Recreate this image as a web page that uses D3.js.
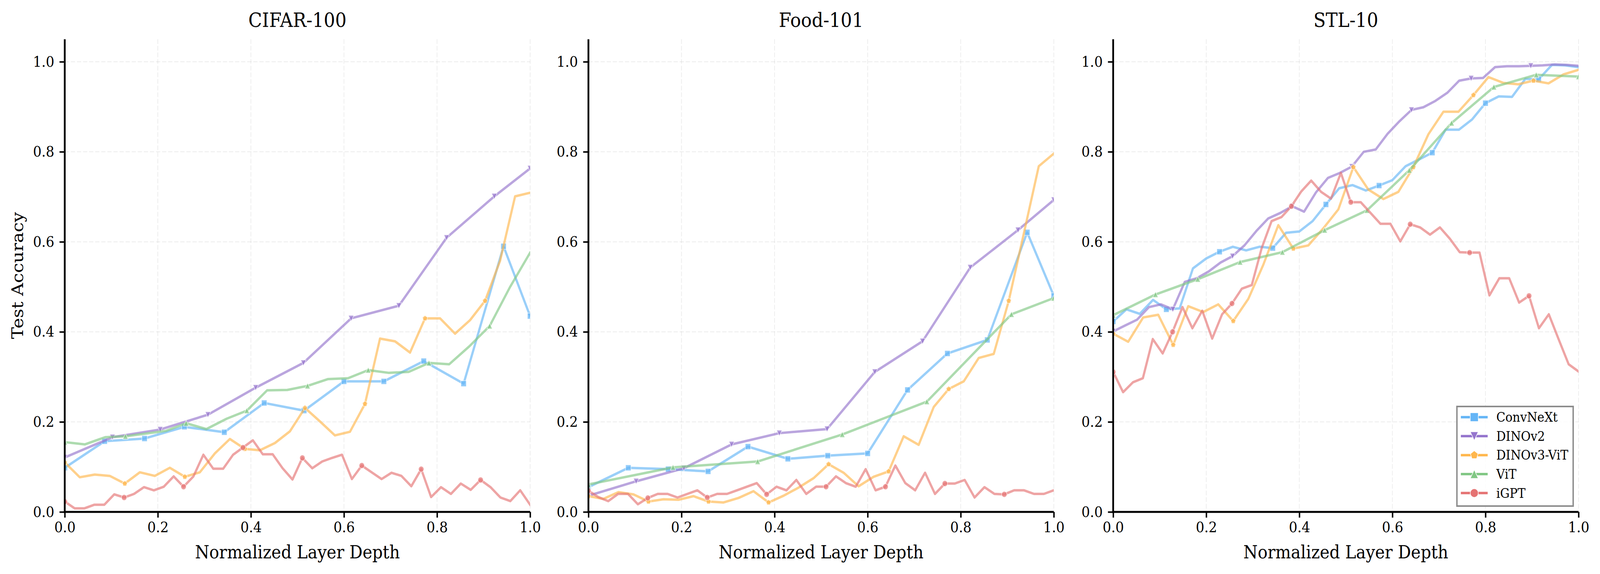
<!DOCTYPE html>
<html><head><meta charset="utf-8">
<script src="https://cdn.jsdelivr.net/npm/d3@7"></script>
<style>html,body{margin:0;padding:0;background:#fff;overflow:hidden} svg{display:block;width:100vw;height:100vh}</style>
</head><body><svg id="c" viewBox="0 0 4473 1470" preserveAspectRatio="none"></svg>
<script>
// ---------------- data ----------------
const datasets = ["CIFAR-100", "Food-101", "STL-10"];
const models = ["ConvNeXt", "DINOv2", "DINOv3-ViT", "ViT", "iGPT"];
const colors = ["#64B5F6", "#9575CD", "#FFB74D", "#81C784", "#E57373"];
const shapes = ["square", "triDown", "pentagon", "triUp", "circle"];
const xTicks = [0.0, 0.2, 0.4, 0.6, 0.8, 1.0];
const yTicks = [0.0, 0.2, 0.4, 0.6, 0.8, 1.0];

// sampled layer indices (when not every layer was probed)
const convnextSampled = [0, 3, 6, 9, 12, 15, 18, 21, 24, 27, 30, 33, 35]; // of 0..35
const dinov2Sampled = [0, 4, 8, 12, 16, 20, 24, 28, 32, 36, 39];           // of 0..39
const vitSampled = [0, 2, 4, 6, 8, 10, 11];                                 // of 0..11

// CIFAR-100
const cifarConvNeXt = [0.098,0.157,0.163,0.189,0.177,0.242,0.225,0.290,0.290,0.335,0.285,0.590,0.435];
const cifarDINOv2 = [0.121,0.166,0.183,0.216,0.276,0.331,0.430,0.458,0.609,0.701,0.763];
const cifarDINOv3 = [0.110,0.077,0.083,0.080,0.063,0.088,0.080,0.098,0.078,0.088,
  0.130,0.162,0.140,0.137,0.153,0.179,0.231,0.201,0.170,0.178,
  0.240,0.385,0.379,0.354,0.430,0.430,0.396,0.426,0.469,0.558,0.701,0.709];
const cifarViT = [0.155,0.150,0.166,0.168,0.174,0.180,0.197,0.184,0.207,0.225,0.270,0.271,
  0.280,0.295,0.297,0.315,0.309,0.311,0.331,0.328,0.368,0.413,0.499,0.576];
const cifarIGPT = [0.023,0.008,0.008,0.016,0.016,0.039,0.032,0.040,0.055,0.048,
  0.056,0.079,0.056,0.079,0.127,0.096,0.096,0.127,0.143,0.159,
  0.128,0.128,0.097,0.072,0.120,0.097,0.112,0.120,0.127,0.073,
  0.103,0.088,0.073,0.087,0.080,0.057,0.095,0.033,0.055,0.040,
  0.063,0.049,0.071,0.055,0.032,0.024,0.048,0.016];

// Food-101
const foodConvNeXt = [0.055,0.098,0.095,0.090,0.145,0.118,0.125,0.130,0.271,0.352,0.382,0.621,0.480];
const foodDINOv2 = [0.036,0.068,0.097,0.150,0.175,0.184,0.311,0.379,0.543,0.626,0.693];
const foodDINOv3 = [0.035,0.029,0.044,0.039,0.023,0.028,0.027,0.035,0.023,0.021,
  0.031,0.046,0.021,0.036,0.054,0.075,0.106,0.087,0.057,0.078,
  0.090,0.168,0.149,0.233,0.273,0.290,0.342,0.351,0.469,0.618,0.768,0.796];
const foodViT = [0.061,0.099,0.112,0.172,0.245,0.439,0.475];
const foodIGPT = [0.047,0.033,0.024,0.040,0.040,0.017,0.031,0.040,0.040,0.032,
  0.040,0.048,0.032,0.040,0.040,0.048,0.056,0.064,0.039,0.056,
  0.048,0.071,0.040,0.056,0.056,0.079,0.064,0.056,0.095,0.048,
  0.056,0.103,0.064,0.048,0.087,0.040,0.063,0.063,0.071,0.032,
  0.055,0.040,0.039,0.048,0.048,0.040,0.040,0.048];

// STL-10
const stlConvNeXt = [0.423,0.450,0.440,0.471,0.450,0.452,0.541,0.563,0.578,0.589,
  0.581,0.589,0.586,0.620,0.623,0.646,0.683,0.719,0.726,0.714,
  0.725,0.737,0.768,0.783,0.798,0.849,0.849,0.872,0.908,0.923,
  0.922,0.962,0.961,0.993,0.992,0.988];
const stlDINOv2 = [0.401,0.414,0.427,0.455,0.461,0.450,0.511,0.519,0.534,0.554,
  0.568,0.592,0.624,0.652,0.664,0.679,0.667,0.710,0.742,0.753,
  0.767,0.800,0.805,0.840,0.868,0.893,0.899,0.913,0.931,0.958,
  0.963,0.964,0.988,0.990,0.990,0.991,0.992,0.994,0.993,0.991];
const stlDINOv3 = [0.396,0.378,0.432,0.438,0.371,0.457,0.444,0.461,0.424,0.473,
  0.549,0.637,0.585,0.592,0.630,0.672,0.766,0.716,0.695,0.711,
  0.766,0.839,0.889,0.889,0.926,0.966,0.953,0.950,0.958,0.952,0.972,0.982];
const stlViT = [0.437,0.483,0.517,0.555,0.577,0.626,0.670,0.759,0.864,0.944,0.971,0.967];
const stlIGPT = [0.311,0.266,0.288,0.297,0.384,0.352,0.400,0.455,0.408,0.447,
  0.385,0.439,0.463,0.496,0.504,0.586,0.646,0.655,0.679,0.712,
  0.736,0.711,0.696,0.753,0.688,0.688,0.664,0.640,0.640,0.601,
  0.639,0.632,0.616,0.632,0.607,0.577,0.576,0.576,0.481,0.519,
  0.519,0.465,0.480,0.408,0.439,0.383,0.328,0.312];

// per dataset: [accuracy array, sampled layer indices or null]
const panelSeries = [
  [[cifarConvNeXt, convnextSampled], [cifarDINOv2, dinov2Sampled], [cifarDINOv3, null], [cifarViT, null], [cifarIGPT, null]],
  [[foodConvNeXt, convnextSampled], [foodDINOv2, dinov2Sampled], [foodDINOv3, null], [foodViT, vitSampled], [foodIGPT, null]],
  [[stlConvNeXt, null], [stlDINOv2, null], [stlDINOv3, null], [stlViT, null], [stlIGPT, null]]
];

// ---------------- layout ----------------
const W = 4473, H = 1470;
const FONT = "'DejaVu Serif', serif";
const lefts = [181, 1645, 3112];
const plotW = 1301, plotTop = 100.5, plotBottom = 1311;
const MS = 15;

const svg = d3.select("#c");
svg.append("rect").attr("width", W).attr("height", H).attr("fill", "#fff");

function markerPath(shape, s) {
  const r = s / 2;
  if (shape === "square") return `M${-r},${-r}h${s}v${s}h${-s}Z`;
  if (shape === "circle") return `M${r},0A${r},${r} 0 1 1 ${-r},0A${r},${r} 0 1 1 ${r},0Z`;
  if (shape === "triUp") return `M0,${-r}L${r},${r}L${-r},${r}Z`;
  if (shape === "triDown") return `M0,${r}L${r},${-r}L${-r},${-r}Z`;
  if (shape === "pentagon") {
    const pts = d3.range(5).map(k => {
      const a = Math.PI / 2 + k * 2 * Math.PI / 5;
      return [r * Math.cos(a), -r * Math.sin(a)];
    });
    return "M" + pts.map(p => p[0].toFixed(2) + "," + p[1].toFixed(2)).join("L") + "Z";
  }
}

datasets.forEach((name, p) => {
  const L = lefts[p];
  const x = d3.scaleLinear().domain([0, 1]).range([L, L + plotW]);
  const y = d3.scaleLinear().domain([0, 1.05]).range([plotBottom, plotTop]);
  const g = svg.append("g");

  // grid
  const grid = g.append("g").attr("stroke", "#b0b0b0").attr("stroke-opacity", 0.22)
    .attr("stroke-width", 2.2).attr("stroke-dasharray", "12,5");
  xTicks.forEach(t => grid.append("line").attr("x1", x(t)).attr("x2", x(t)).attr("y1", plotTop).attr("y2", plotBottom));
  yTicks.forEach(t => grid.append("line").attr("x1", L).attr("x2", L + plotW).attr("y1", y(t)).attr("y2", y(t)));

  // clip
  const cid = "clip" + p;
  svg.append("clipPath").attr("id", cid).append("rect")
    .attr("x", L).attr("y", plotTop).attr("width", plotW).attr("height", plotBottom - plotTop);
  const plot = g.append("g").attr("clip-path", `url(#${cid})`);

  const line = d3.line().x(d => x(d[0])).y(d => y(d[1]));

  panelSeries[p].forEach(([acc, sampled], m) => {
    const idx = sampled || d3.range(acc.length);
    const last = idx[idx.length - 1];
    const pts = acc.map((v, i) => [idx[i] / last, v]);
    plot.append("path").datum(pts).attr("d", line)
      .attr("fill", "none").attr("stroke", colors[m]).attr("stroke-opacity", 0.65)
      .attr("stroke-width", 6.25).attr("stroke-linejoin", "round").attr("stroke-linecap", "square");
    const step = Math.max(1, Math.floor(pts.length / 8));
    const mk = pts.filter((d, i) => i % step === 0);
    plot.append("g").selectAll("path").data(mk).join("path")
      .attr("transform", d => `translate(${x(d[0])},${y(d[1])})`)
      .attr("d", markerPath(shapes[m], MS))
      .attr("fill", colors[m]).attr("fill-opacity", 0.7)
      .attr("stroke", "#fff").attr("stroke-opacity", 0.7).attr("stroke-width", 1.5);
  });

  // axes
  const xAxis = d3.axisBottom(x).tickValues(xTicks).tickFormat(d3.format(".1f")).tickSize(14.6).tickPadding(14.6);
  const yAxis = d3.axisLeft(y).tickValues(yTicks).tickFormat(d3.format(".1f")).tickSize(14.6).tickPadding(14.6);
  const gx = g.append("g").attr("transform", `translate(0,${plotBottom})`).call(xAxis);
  const gy = g.append("g").attr("transform", `translate(${L},0)`).call(yAxis);
  [gx, gy].forEach(a => {
    a.select(".domain").remove();
    a.selectAll(".tick line").attr("stroke", "#000").attr("stroke-width", 4);
    a.selectAll(".tick text").attr("fill", "#000").style("font-family", FONT).style("font-size", "37.5px");
  });
  gx.selectAll(".tick text").attr("dy", "0.62em");
  // spines
  g.append("line").attr("x1", L).attr("x2", L).attr("y1", plotTop).attr("y2", plotBottom + 2.5)
    .attr("stroke", "#000").attr("stroke-width", 5);
  g.append("line").attr("x1", L - 2.5).attr("x2", L + plotW).attr("y1", plotBottom).attr("y2", plotBottom)
    .attr("stroke", "#000").attr("stroke-width", 5);

  // title + labels
  g.append("text").attr("x", L + plotW / 2).attr("y", 69).attr("text-anchor", "middle")
    .style("font-family", FONT).style("font-size", "50px").text(name);
  g.append("text").attr("x", L + plotW / 2).attr("y", 1430).attr("text-anchor", "middle")
    .style("font-family", FONT).style("font-size", "45.8px").text("Normalized Layer Depth");
  if (p === 0) {
    g.append("text").attr("transform", `translate(64,${(plotTop + plotBottom) / 2}) rotate(-90)`)
      .attr("text-anchor", "middle").style("font-family", FONT).style("font-size", "45.8px")
      .text("Test Accuracy");
  }
});

// legend (in STL-10 panel)
const lg = svg.append("g");
lg.append("rect").attr("x", 4073).attr("y", 1041).attr("width", 325).attr("height", 255)
  .attr("fill", "#fff").attr("fill-opacity", 0.8).attr("stroke", "#8c8c8c").attr("stroke-width", 4);
models.forEach((mname, m) => {
  const ry = 1068.3 + m * 48.6;
  lg.append("line").attr("x1", 4084).attr("x2", 4159).attr("y1", ry).attr("y2", ry)
    .attr("stroke", colors[m]).attr("stroke-width", 6.25);
  lg.append("path").attr("transform", `translate(4121.5,${ry})`).attr("d", markerPath(shapes[m], MS * 1.5))
    .attr("fill", colors[m]).attr("stroke", "#fff").attr("stroke-width", 1.5);
  lg.append("text").attr("x", 4183).attr("y", ry).attr("dy", "0.36em")
    .style("font-family", FONT).style("font-size", "33.3px").text(mname);
});
</script></body></html>
